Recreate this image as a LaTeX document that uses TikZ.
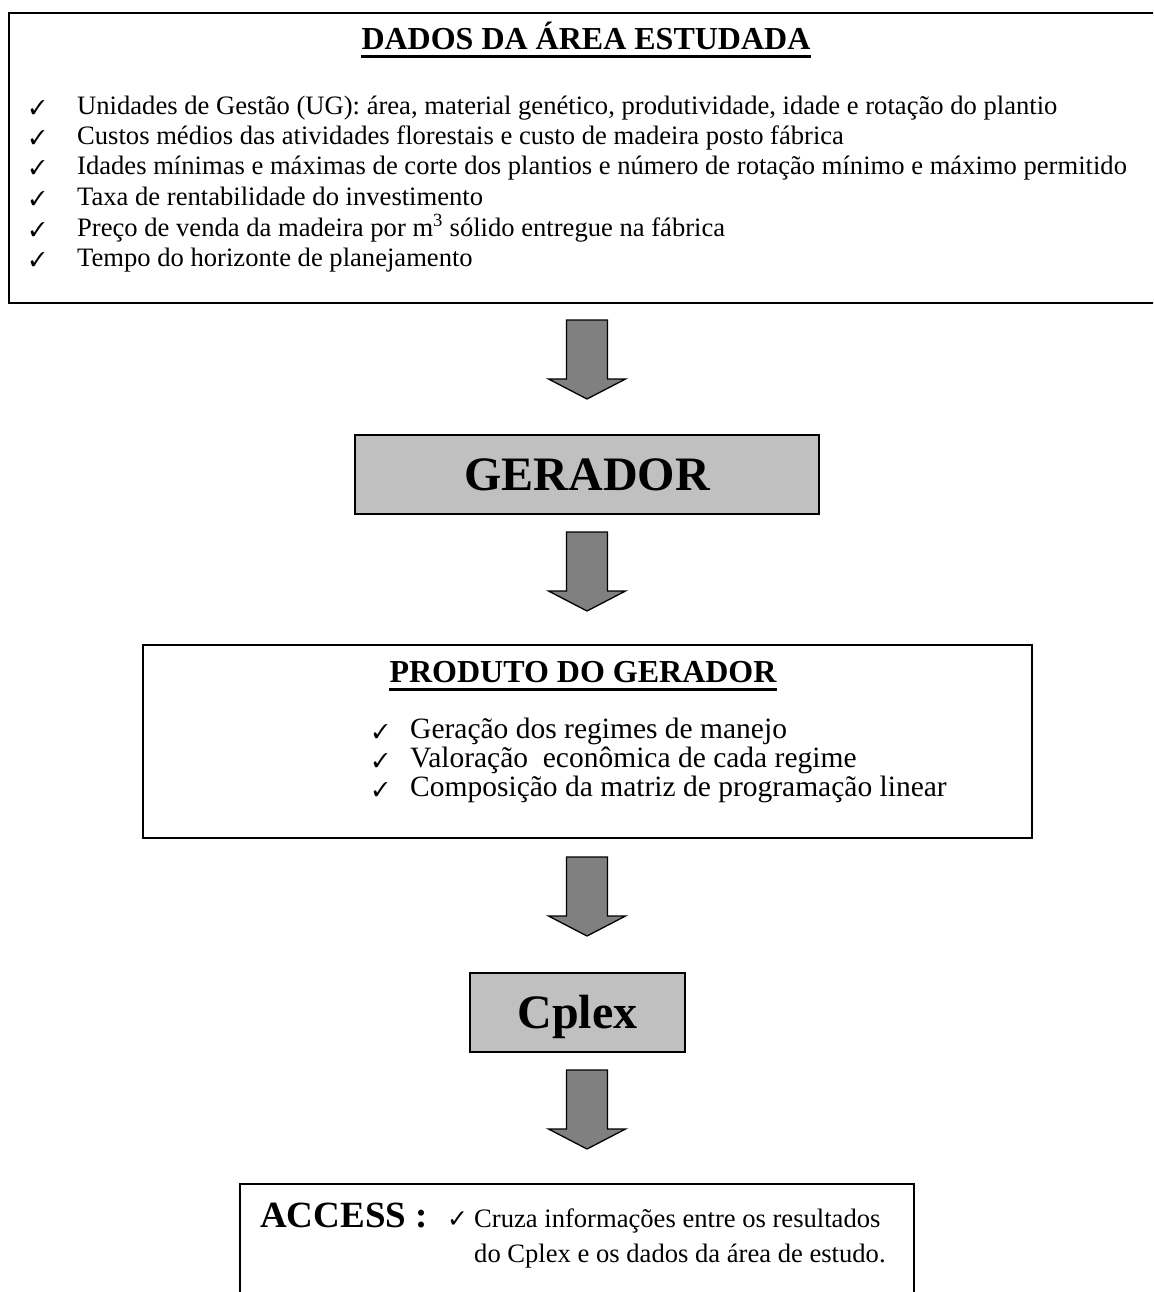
\documentclass[tikz,border=0pt]{standalone}
\usepackage{fontspec}
\setmainfont{Liberation Serif}
\newfontfamily\djv{DejaVu Sans}
\usepackage{pifont}
\usetikzlibrary{calc}
\definecolor{boxgray}{HTML}{C0C0C0}
\definecolor{arrgray}{HTML}{808080}
\tikzset{
  frame/.style={draw, line width=2pt, inner sep=0pt, anchor=north west},
  graybox/.style={frame, fill=boxgray},
  txt/.style={inner sep=0pt, anchor=base west, font=\fontsize{26.6}{30}\selectfont},
  ptxt/.style={inner sep=0pt, anchor=base west, font=\fontsize{29.5}{30}\selectfont},
  chk/.style={inner sep=0pt, anchor=base west, font=\fontsize{20}{20}\selectfont},
  ttl/.style={inner sep=0pt, anchor=base, font=\fontsize{32}{36}\selectfont\bfseries},
  bigtxt/.style={inner sep=0pt, anchor=base, font=\fontsize{48}{52}\selectfont\bfseries},
  uline/.style={line width=3pt},
  bigarrow/.pic={\draw[line width=1.3pt, fill=arrgray, line join=miter]
     (-20.5,0) -- (20.5,0) -- (20.5,59) -- (38.5,59) -- (0,79) -- (-38.5,59) -- (-20.5,59) -- cycle;}
}
\begin{document}
\begin{tikzpicture}[x=1pt,y=-1pt]
\useasboundingbox (0,0) rectangle (1153,1292);
\clip (0,0) rectangle (1153,1292);

% top box
\node[frame, minimum width=1160pt, minimum height=290pt] (dados) at (8,12) {};
\node[ttl] (t1) at (586,50) {DADOS DA ÁREA ESTUDADA};
\draw[uline] ([yshift=-7pt]t1.base west) -- ([yshift=-7pt]t1.base east);
\node[chk] (c1) at (30,115) {\ding{51}};
\node[txt] (l1) at (77,115) {Unidades de Gestão (UG): área, material genético, produtividade, idade e rotação do plantio};
\node[chk] (c2) at (30,145) {\ding{51}};
\node[txt] (l2) at (77,145) {Custos médios das atividades florestais e custo de madeira posto fábrica};
\node[chk] (c3) at (30,175) {\ding{51}};
\node[txt] (l3) at (77,175) {Idades mínimas e máximas de corte dos plantios e número de rotação mínimo e máximo permitido};
\node[chk] (c4) at (30,205) {\ding{51}};
\node[txt] (l4) at (77,205) {Taxa de rentabilidade do investimento};
\node[chk] (c5) at (30,236) {\ding{51}};
\node[txt] (l5) at (77,236) {Preço de venda da madeira por m\textsuperscript{3} sólido entregue na fábrica};
\node[chk] (c6) at (30,266) {\ding{51}};
\node[txt] (l6) at (77,266) {Tempo do horizonte de planejamento};

% gerador
\node[graybox, minimum width=464pt, minimum height=79pt] (gerador) at (354,434) {};
\node[bigtxt] (gt) at ($(gerador.center)+(0,16)$) {GERADOR};

% produto
\node[frame, minimum width=889pt, minimum height=193pt] (produto) at (142,644) {};
\node[ttl] (t2) at (583,682) {PRODUTO DO GERADOR};
\draw[uline] ([yshift=-7pt]t2.base west) -- ([yshift=-7pt]t2.base east);
\node[chk] (pc1) at (373,738) {\ding{51}};
\node[ptxt] (p1) at (410,738) {Geração dos regimes de manejo};
\node[chk] (pc2) at (373,767) {\ding{51}};
\node[ptxt] (p2) at (410,767) {Valoração\ \ econômica de cada regime};
\node[chk] (pc3) at (373,796) {\ding{51}};
\node[ptxt] (p3) at (410,796) {Composição da matriz de programação linear};

% cplex
\node[graybox, minimum width=215pt, minimum height=79pt] (cplex) at (469,972) {};
\node[bigtxt] (ct) at ($(cplex.center)+(0,16)$) {Cplex};

% access
\node[frame, minimum width=674pt, minimum height=200pt] (access) at (239,1183) {};
\node[inner sep=0pt, anchor=base west, font=\fontsize{37}{40}\selectfont\bfseries] (acl) at (260,1227) {ACCESS :};
\node[inner sep=0pt, anchor=base west, font=\djv\fontsize{25}{26}\selectfont] (ack) at (447,1227) {✓};
\node[txt] (ac1) at (474,1227) {Cruza informações entre os resultados};
\node[txt] (ac2) at (474,1262) {do Cplex e os dados da área de estudo.};

% block arrows
\pic (a1) at ($(dados.south -| gerador.center)+(0,16)$) {bigarrow};
\pic (a2) at ($(gerador.south)+(0,17)$) {bigarrow};
\pic (a3) at ($(produto.south -| gerador.center)+(0,18)$) {bigarrow};
\pic (a4) at ($(cplex.south -| gerador.center)+(0,17)$) {bigarrow};
\end{tikzpicture}
\end{document}
